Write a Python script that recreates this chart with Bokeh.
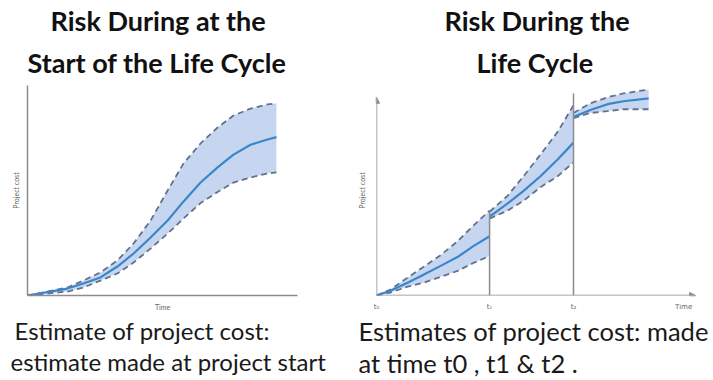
from bokeh.plotting import figure
from bokeh.layouts import row
from bokeh.models import Title, Arrow, NormalHead, FixedTicker
from bokeh.embed import file_html
from bokeh.resources import INLINE

# ---------------- data: left chart (estimate made at project start) ----------------
start_time = [0, 14.8, 20.7, 27.0, 33.3, 39.3, 45.6, 51.9, 57.8, 64.1, 70.4, 76.3, 82.6, 88.9, 92.2]
start_mean = [0, 3.3, 5.7, 8.6, 13.8, 20.0, 27.6, 35.7, 44.8, 53.8, 61.0, 67.1, 71.8, 74.3, 75.4]
start_upper = [0, 3.8, 7.1, 11.0, 16.7, 24.8, 35.7, 50.0, 62.9, 72.4, 80.0, 85.7, 89.0, 91.0, 91.4]
start_lower = [0, 1.9, 3.8, 7.1, 10.5, 15.7, 22.4, 29.5, 36.7, 44.0, 49.3, 53.8, 56.2, 58.1, 58.6]

# ---------------- data: right chart (estimates made at t0, t1, t2) ----------------
seg1_time = [0, 4.3, 9.6, 14.5, 19.8, 25.0, 29.9, 34.9]
seg1_mean = [0, 2.3, 6.1, 9.9, 14.1, 18.3, 23.5, 28.2]
seg1_upper = [0, 2.8, 8.5, 13.6, 19.2, 25.8, 33.3, 40.4]
seg1_lower = [0, 1.4, 4.2, 6.1, 8.9, 11.7, 15.5, 18.8]

seg2_time = [34.9, 40.4, 45.4, 50.6, 55.9, 60.8]
seg2_mean = [37.6, 43.7, 49.8, 56.8, 64.8, 72.8]
seg2_upper = [39.9, 47.4, 56.8, 67.1, 77.9, 90.6]
seg2_lower = [36.6, 40.4, 45.1, 51.6, 56.8, 63.4]

seg3_time = [60.8, 66.0, 71.3, 76.2, 84.0]
seg3_mean = [85.0, 88.3, 91.1, 92.5, 93.9]
seg3_upper = [86.9, 91.5, 94.4, 96.2, 98.1]
seg3_lower = [84.5, 86.9, 87.8, 88.7, 88.7]

T1 = 34.9
T2 = 60.8
t1_line_top = 40.4
t2_line_top = 96.2
y_axis_top = 94.4
x_axis_end = 98.5
time_label_pos = 94.8
right_ticks = [0, T1, T2, time_label_pos]
right_tick_labels = ["t\u2080", "t\u2081", "t\u2082", "Time"]

left_title = ["Risk During at the", "Start of the Life Cycle"]
right_title = ["Risk During the", "Life Cycle"]
left_caption = ["Estimate of  project cost:", "estimate made at project start"]
right_caption = ["Estimates of project cost: made", "at time t0 , t1 & t2 ."]

BAND = "#c7d6f0"
MEAN = "#3a86c8"
DASH = "#62728a"
AXIS = "#8c8c8c"
FONT = "Lato"


def base_fig(width, left, right, top, bottom):
    p = figure(width=width, height=380, x_range=(0, 100), y_range=(0, 100),
               output_backend="svg", toolbar_location=None, title=None,
               min_border_left=left, min_border_right=right,
               min_border_top=top, min_border_bottom=bottom)
    p.outline_line_color = None
    p.xgrid.visible = False
    p.ygrid.visible = False
    p.background_fill_color = "white"
    p.border_fill_color = "white"
    for ax in (p.xaxis[0], p.yaxis[0]):
        ax.ticker = FixedTicker(ticks=[])
        ax.major_tick_line_color = None
        ax.minor_tick_line_color = None
        ax.major_tick_out = 0
        ax.major_tick_in = 0
        ax.minor_tick_out = 0
        ax.axis_label_text_font_size = "7px"
        ax.axis_label_text_color = "#666666"
        ax.axis_label_text_font_style = "normal"
        ax.axis_label_text_font = FONT
        ax.axis_line_color = AXIS
        ax.axis_line_width = 1.5
    return p


def draw_band(p, t, mean, upper, lower):
    p.varea(x=t, y1=lower, y2=upper, fill_color=BAND, fill_alpha=1.0)
    p.line(t, upper, line_color=DASH, line_width=1.8, line_dash="6 4")
    p.line(t, lower, line_color=DASH, line_width=1.8, line_dash="6 4")
    p.line(t, mean, line_color=MEAN, line_width=2.2)


def add_texts(p, title, caption, title_offsets, title_standoffs,
              cap_offsets, cap_standoffs, cap_size):
    # above: the first one added sits nearest the frame, so add the lower line first
    for txt, off, so in reversed(list(zip(title, title_offsets, title_standoffs))):
        p.add_layout(Title(text=txt, text_font=FONT, text_font_size="27px",
                           text_font_style="bold", text_color="#111111",
                           align="left", offset=off, standoff=so), "above")
    for txt, off, so in zip(caption, cap_offsets, cap_standoffs):
        p.add_layout(Title(text=txt, text_font=FONT, text_font_size=cap_size,
                           text_font_style="normal", text_color="#1a1a1a",
                           align="left", offset=off, standoff=so), "below")


# ---------------- left figure ----------------
p1 = base_fig(340, 27, 43, 85, 85)
p1.yaxis[0].axis_label = "Project cost"
p1.yaxis[0].axis_label_standoff = 8
p1.yaxis[0].major_label_standoff = 0
p1.xaxis[0].axis_label = "Time"
p1.xaxis[0].axis_label_standoff = 7
p1.xaxis[0].major_label_standoff = 0
draw_band(p1, start_time, start_mean, start_upper, start_lower)
add_texts(p1, left_title, left_caption, [23, 0], [2, 13], [-13, -17], [0, 1], "24px")

# ---------------- right figure ----------------
p2 = base_fig(373, 36, 13, 85, 82)
p2.xaxis[0].axis_line_color = None
p2.yaxis[0].axis_line_color = None
p2.yaxis[0].axis_label = "Project cost"
p2.yaxis[0].axis_label_standoff = 11
p2.yaxis[0].major_label_standoff = 0
p2.xaxis[0].ticker = FixedTicker(ticks=right_ticks)
p2.xaxis[0].major_label_overrides = {t: lab for t, lab in zip(right_ticks, right_tick_labels)}
p2.xaxis[0].major_label_text_font = "DejaVu Sans"
p2.xaxis[0].major_label_text_font_size = "7px"
p2.xaxis[0].major_label_text_color = "#666666"
p2.xaxis[0].major_label_standoff = 7

draw_band(p2, seg1_time, seg1_mean, seg1_upper, seg1_lower)
draw_band(p2, seg2_time, seg2_mean, seg2_upper, seg2_lower)
draw_band(p2, seg3_time, seg3_mean, seg3_upper, seg3_lower)
p2.segment(x0=[T1, T2], y0=[0, 0], x1=[T1, T2], y1=[t1_line_top, t2_line_top],
           line_color=AXIS, line_width=1.5)

p2.add_layout(Arrow(end=NormalHead(size=6, fill_color=AXIS, line_color=AXIS),
                    x_start=0, y_start=0, x_end=0, y_end=y_axis_top,
                    line_color=AXIS, line_width=1.5))
p2.add_layout(Arrow(end=NormalHead(size=6, fill_color=AXIS, line_color=AXIS),
                    x_start=0, y_start=0, x_end=x_axis_end, y_end=0,
                    line_color=AXIS, line_width=1.5))
add_texts(p2, right_title, right_caption, [68, 100], [2, 13], [-18, -18], [0, 0], "25.5px")

layout = row(p1, p2)
open("out.html", "w").write(file_html(layout, INLINE))
